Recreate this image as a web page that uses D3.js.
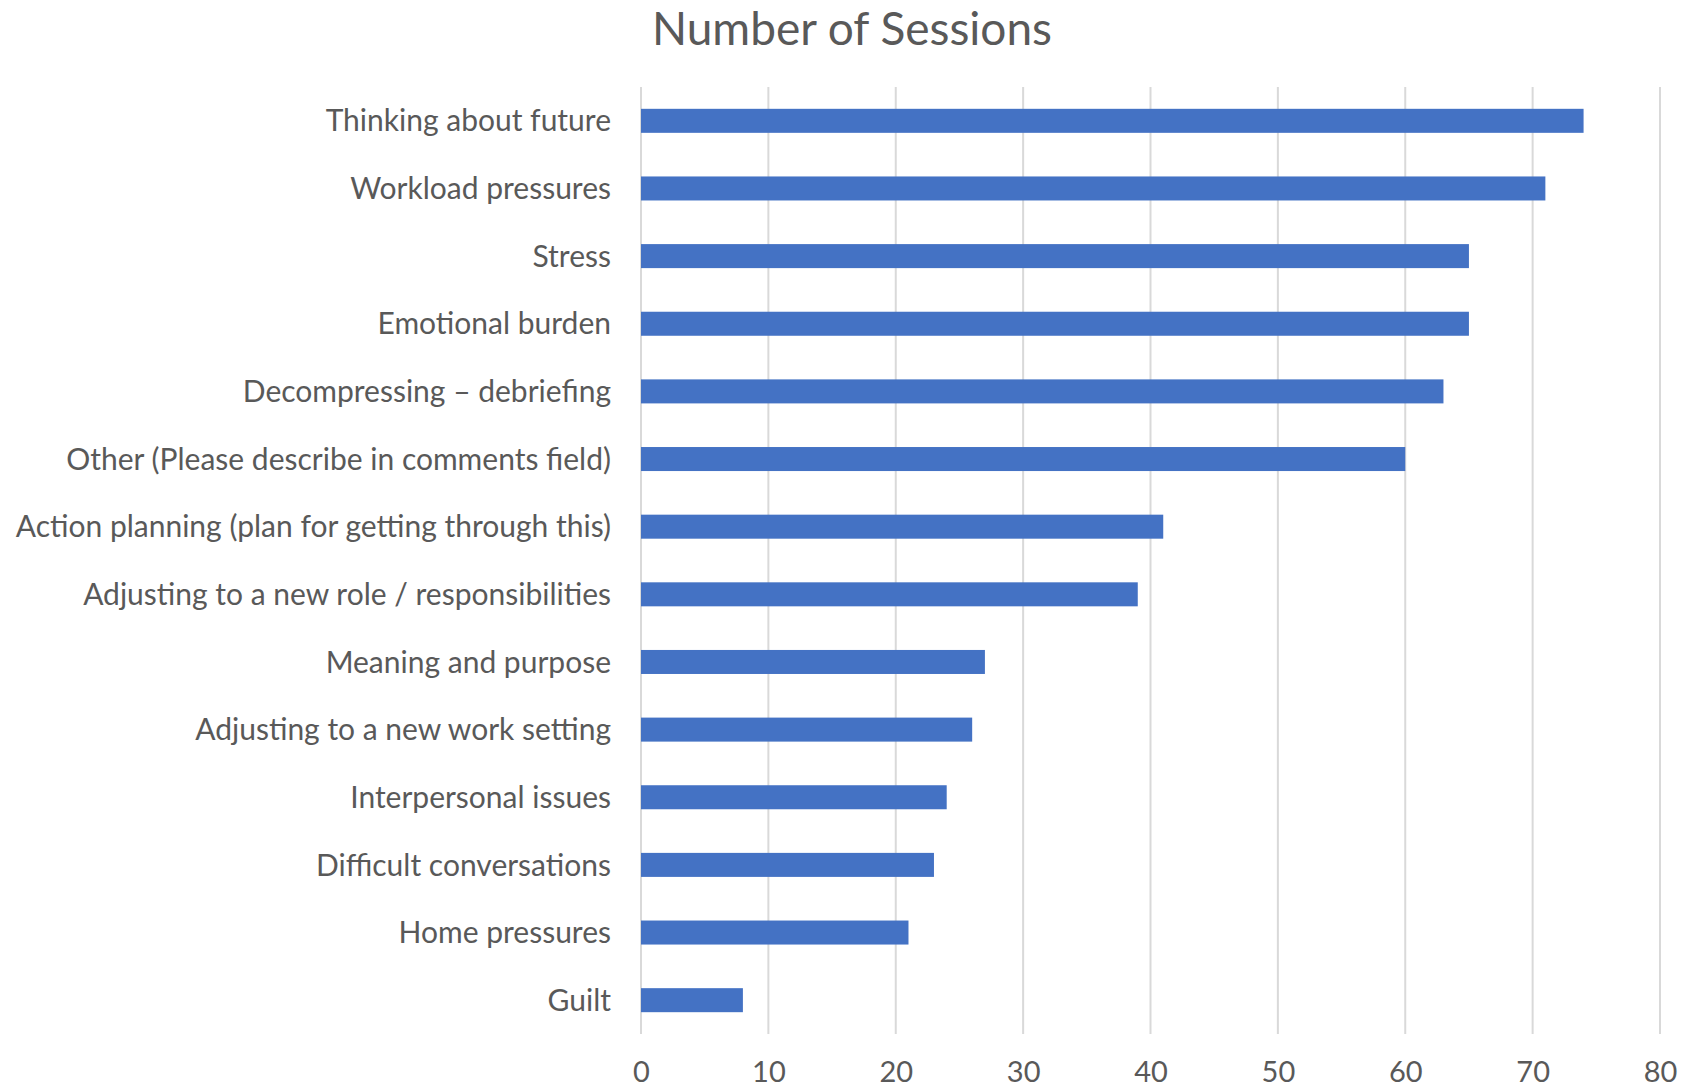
<!DOCTYPE html>
<html>
<head>
<meta charset="utf-8">
<script src="https://cdn.jsdelivr.net/npm/d3@7"></script>
<style>
  html, body { margin: 0; padding: 0; background: #fff; }
  svg { display: block; }
  text { font-family: Lato, "Open Sans", sans-serif; fill: #595959; }
</style>
</head>
<body>
<svg id="chart" width="1683" height="1089"></svg>
<script>
// Topics discussed, ordered from most to fewest sessions
const categories = [
  "Thinking about future",
  "Workload pressures",
  "Stress",
  "Emotional burden",
  "Decompressing \u2013 debriefing",
  "Other (Please describe in comments field)",
  "Action planning (plan for getting through this)",
  "Adjusting to a new role / responsibilities",
  "Meaning and purpose",
  "Adjusting to a new work setting",
  "Interpersonal issues",
  "Difficult conversations",
  "Home pressures",
  "Guilt"
];
const sessions = [74, 71, 65, 65, 63, 60, 41, 39, 27, 26, 24, 23, 21, 8];
const xTicks = [0, 10, 20, 30, 40, 50, 60, 70, 80];
const chartTitle = "Number of Sessions";

const svg = d3.select("#chart");
const margin = { top: 87, right: 23, bottom: 55, left: 641 };
const W = 1683, H = 1089;
const innerW = W - margin.left - margin.right;
const innerH = H - margin.top - margin.bottom;

const x = d3.scaleLinear().domain([0, 80]).range([0, innerW]);
const y = d3.scaleBand().domain(categories).range([0, innerH])
  .paddingInner(0.645).paddingOuter(0.3225);

const g = svg.append("g").attr("transform", `translate(${margin.left},${margin.top})`);

// vertical gridlines
g.append("g").selectAll("line").data(xTicks).join("line")
  .attr("x1", d => x(d)).attr("x2", d => x(d))
  .attr("y1", 0).attr("y2", innerH)
  .attr("stroke", "#d9d9d9").attr("stroke-width", 2);

// bars
g.append("g").selectAll("rect").data(categories).join("rect")
  .attr("x", x(0))
  .attr("y", d => y(d))
  .attr("width", (d, i) => x(sessions[i]) - x(0))
  .attr("height", y.bandwidth())
  .attr("fill", "#4472c4");

// category axis labels
const yAxis = d3.axisLeft(y).tickSize(0).tickPadding(30);
const ya = g.append("g").attr("transform", "translate(0,1)").call(yAxis);
ya.select(".domain").remove();
ya.selectAll("text")
  .style("font-family", "Lato, 'Open Sans', sans-serif")
  .style("font-size", "30px")
  .attr("fill", "#595959");

// value axis labels
const xAxis = d3.axisBottom(x).tickValues(xTicks).tickSize(0).tickPadding(27);
const xa = g.append("g").attr("transform", `translate(0,${innerH})`).call(xAxis);
xa.select(".domain").remove();
xa.selectAll("text")
  .style("font-family", "Lato, 'Open Sans', sans-serif")
  .style("font-size", "29px")
  .attr("fill", "#595959");

// title
svg.append("text")
  .attr("x", 852).attr("y", 45)
  .attr("text-anchor", "middle")
  .style("font-size", "46px")
  .text(chartTitle);
</script>
</body>
</html>
